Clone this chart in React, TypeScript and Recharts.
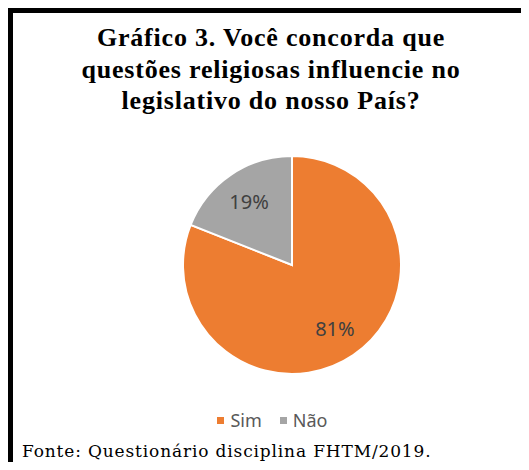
import { Cell, Legend, Pie, PieChart } from 'recharts'

const categories = ['Sim', 'Não']
const percentages = [81, 19]
const sliceColors = ['#ED7D31', '#A5A5A5']
const titleLines = [
  'Gráfico 3. Você concorda que',
  'questões religiosas influencie no',
  'legislativo do nosso País?',
]
const sourceNote = 'Fonte: Questionário disciplina FHTM/2019.'

const data = categories.map((name, i) => ({ name, value: percentages[i] }))

const RAD = Math.PI / 180

function renderLabel(props: any) {
  const { cx, cy, midAngle, outerRadius, value } = props
  const r = outerRadius * 0.7
  const x = cx + r * Math.cos(-midAngle * RAD)
  const y = cy + r * Math.sin(-midAngle * RAD)
  return (
    <text
      x={x}
      y={y}
      textAnchor="middle"
      dominantBaseline="central"
      fill="#404040"
      fontSize={20}
      fontFamily="'Noto Sans', sans-serif"
    >
      {`${value}%`}
    </text>
  )
}

function LegendContent(props: any) {
  const items = [...(props.payload || [])].sort(
    (a: any, b: any) => categories.indexOf(a.value) - categories.indexOf(b.value),
  )
  return (
    <div
      style={{
        display: 'flex',
        justifyContent: 'center',
        alignItems: 'center',
        gap: 18,
        fontFamily: "'Noto Sans', sans-serif",
        fontSize: 18,
        color: '#595959',
        paddingLeft: 16,
      }}
    >
      {items.map((p: any) => (
        <span key={p.value} style={{ display: 'flex', alignItems: 'center' }}>
          <span
            style={{ width: 7, height: 7, background: p.color, display: 'inline-block', marginRight: 6 }}
          />
          {p.value}
        </span>
      ))}
    </div>
  )
}

export default function App() {
  return (
    <div style={{ position: 'relative', width: 529, height: 470, margin: -8, background: '#fff' }}>
      <div
        style={{
          position: 'absolute',
          left: 5,
          top: 5,
          width: 524,
          height: 464,
          boxSizing: 'border-box',
          borderLeft: '8px solid #000',
          borderTop: '8px solid #000',
          borderRight: '2px solid #000',
          borderBottom: '2px solid #000',
        }}
      />
      <div
        style={{
          position: 'absolute',
          left: 0,
          top: 22,
          width: 542,
          textAlign: 'center',
          fontFamily: "'Times New Roman', 'Liberation Serif', Tinos, serif",
          fontWeight: 'bold',
          fontSize: 26,
          lineHeight: '31.5px',
          letterSpacing: 0.8,
          color: '#000',
        }}
      >
        {titleLines.map((t) => (
          <div key={t}>{t}</div>
        ))}
      </div>
      <div style={{ position: 'absolute', left: 0, top: 0 }}>
        <PieChart width={529} height={470} margin={{ top: 0, right: 0, bottom: 0, left: 0 }}>
          <Pie
            data={data}
            dataKey="value"
            nameKey="name"
            cx={292}
            cy={265}
            outerRadius={109}
            startAngle={90}
            endAngle={-270}
            stroke="#fff"
            strokeWidth={2}
            label={renderLabel}
            labelLine={false}
            isAnimationActive={false}
          >
            {data.map((d, i) => (
              <Cell key={d.name} fill={sliceColors[i]} />
            ))}
          </Pie>
          <Legend
            content={<LegendContent />}
            wrapperStyle={{ position: 'absolute', top: 408, left: 0, width: 529 }}
          />
        </PieChart>
      </div>
      <div
        style={{
          position: 'absolute',
          left: 22,
          top: 441,
          fontFamily: "'DejaVu Serif', serif",
          fontSize: 17,
          lineHeight: '20px',
          letterSpacing: 0.85,
          color: '#000',
          whiteSpace: 'nowrap',
        }}
      >
        {sourceNote}
      </div>
    </div>
  )
}
